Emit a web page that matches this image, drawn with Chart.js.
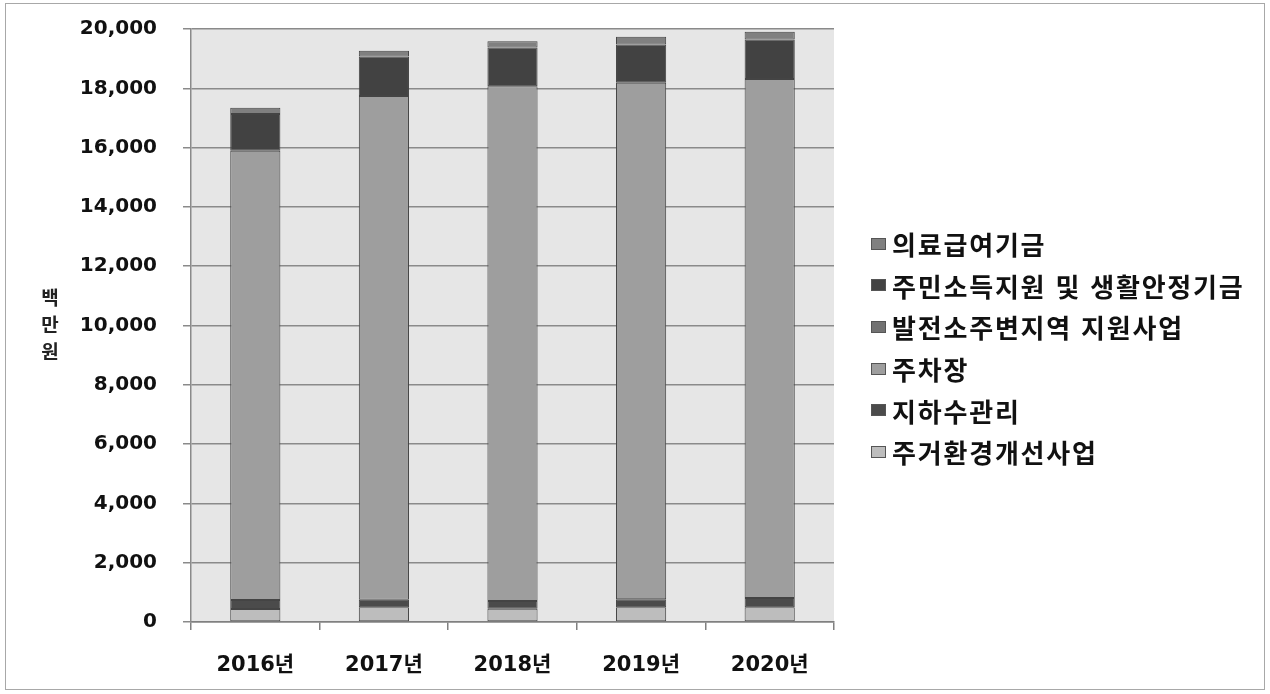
<!DOCTYPE html>
<html lang="ko">
<head>
<meta charset="utf-8">
<title>연도별 지원사업 예산</title>
<script src="https://cdn.jsdelivr.net/npm/chart.js@4.4.1/dist/chart.umd.min.js"></script>
<style>
    body { margin: 0; background: #fff; }
    #wrap { position: relative; width: 1270px; height: 694px; }
    #frame {
        position: absolute; left: 5px; top: 3px; width: 1260px; height: 687px;
        border: 1px solid #a8a8a8; box-sizing: border-box; pointer-events: none;
    }
    #ytitle {
        position: absolute; left: 38px; top: 283px; width: 24px;
        font: bold 19px 'Noto Sans CJK KR', sans-serif; color: #222;
        line-height: 27px; text-align: center;
    }
    #legend {
        position: absolute; left: 871px; top: 223px; margin: 0; padding: 0; list-style: none;
        font: bold 26px 'Noto Sans CJK KR', sans-serif; color: #111; letter-spacing: 1.8px;
    }
    #legend li { height: 41.6px; display: flex; align-items: center; white-space: pre; }
    #legend .box {
        width: 15px; height: 12px; margin-right: 6px; box-sizing: border-box;
        border: 1px solid #555;
    }
</style>
</head>
<body>
<div id="wrap">
    <canvas id="chart" width="1270" height="694"></canvas>
    <div id="ytitle">백<br>만<br>원</div>
    <ul id="legend"></ul>
    <div id="frame"></div>
</div>
<script>
// 단위: 백만원
const years = ['2016년', '2017년', '2018년', '2019년', '2020년'];
const housing = [440, 500, 450, 500, 500];          // 주거환경개선사업
const groundwater = [300, 250, 260, 270, 310];      // 지하수관리
const parking = [15150, 16990, 17360, 17420, 17500]; // 주차장
const plantArea = [0, 0, 0, 0, 0];                  // 발전소주변지역 지원사업
const income = [1240, 1330, 1310, 1290, 1340];      // 주민소득지원 및 생활안정기금
const medical = [210, 200, 210, 260, 260];          // 의료급여기금
const yMax = 20000;
const yStep = 2000;

const series = [
    { label: '주거환경개선사업', data: housing, color: '#bdbdbd' },
    { label: '지하수관리', data: groundwater, color: '#4b4b4b' },
    { label: '주차장', data: parking, color: '#9e9e9e' },
    { label: '발전소주변지역 지원사업', data: plantArea, color: '#727272' },
    { label: '주민소득지원 및 생활안정기금', data: income, color: '#424242' },
    { label: '의료급여기금', data: medical, color: '#808080' }
];

const plotBackground = {
    id: 'plotBackground',
    beforeDraw(chart) {
        const { ctx, chartArea: a } = chart;
        ctx.save();
        ctx.fillStyle = '#e6e6e6';
        ctx.fillRect(a.left, a.top, a.right - a.left, a.bottom - a.top);
        ctx.restore();
    }
};

const fontFamily = "'DejaVu Sans', 'Noto Sans CJK KR', sans-serif";

new Chart(document.getElementById('chart'), {
    type: 'bar',
    data: {
        labels: years,
        datasets: series.map(s => ({
            label: s.label,
            data: s.data,
            backgroundColor: s.color,
            borderColor: '#444',
            borderWidth: c => (c.raw ? 1 : 0),
            borderSkipped: false,
            barPercentage: 0.39,
            categoryPercentage: 1
        }))
    },
    options: {
        responsive: false,
        animation: false,
        devicePixelRatio: 1,
        layout: { padding: { top: 29, right: 436, bottom: 0, left: 0 } },
        plugins: { legend: { display: false }, tooltip: { enabled: false } },
        scales: {
            x: {
                stacked: true,
                offset: true,
                grid: { offset: true, drawOnChartArea: false, color: '#808080', tickLength: 8, lineWidth: 1.5 },
                border: { color: '#808080', width: 1.5 },
                ticks: { color: '#111', font: { family: fontFamily, size: 21, weight: 'bold' }, padding: 23 },
                afterFit(scale) { scale.height = 72; }
            },
            y: {
                stacked: true,
                min: 0,
                max: yMax,
                grid: { color: '#8a8a8a', lineWidth: 1.5, tickLength: 8 },
                border: { color: '#8a8a8a', width: 1.5 },
                ticks: {
                    stepSize: yStep,
                    color: '#111',
                    font: { family: fontFamily, size: 20, weight: 'bold' },
                    padding: 26,
                    callback: v => v.toLocaleString('en-US')
                },
                afterFit(scale) {
                    scale.width = 191;
                    scale.paddingTop = 0;
                    scale.paddingBottom = 0;
                }
            }
        }
    },
    plugins: [plotBackground]
});

const legend = document.getElementById('legend');
series.slice().reverse().forEach(s => {
    const li = document.createElement('li');
    li.innerHTML = `<span class="box" style="background:${s.color}"></span>${s.label}`;
    legend.appendChild(li);
});
</script>
</body>
</html>
